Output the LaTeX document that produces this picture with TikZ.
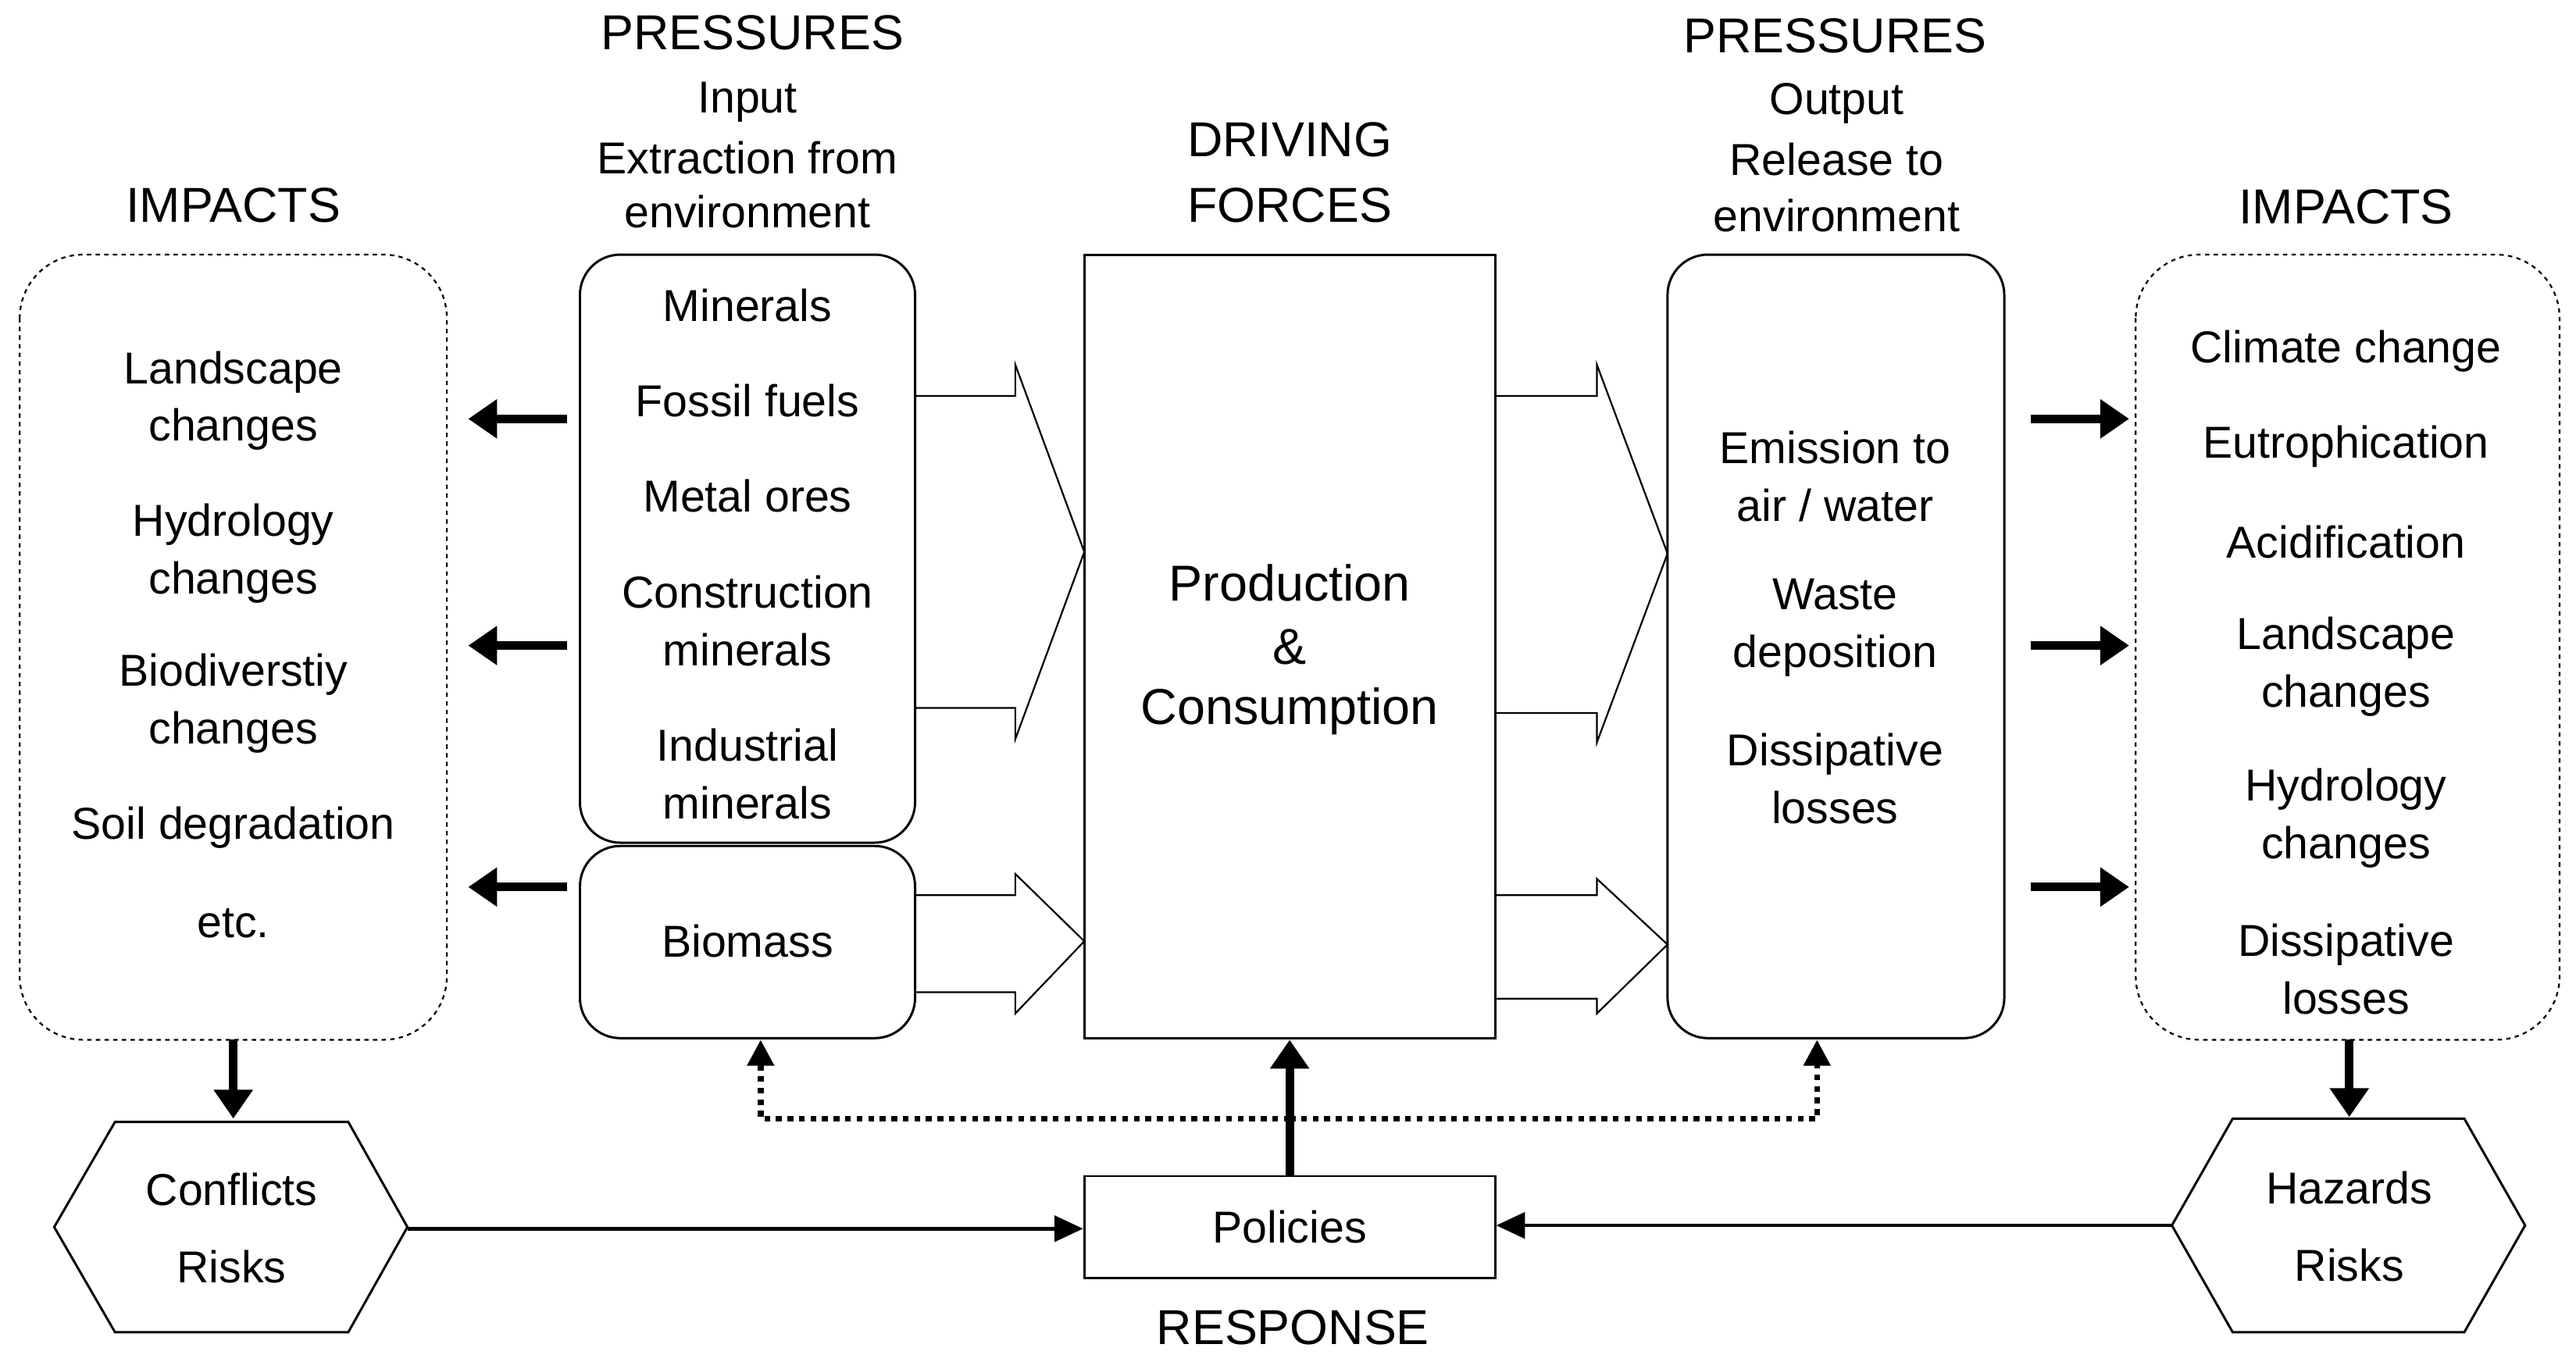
\documentclass[tikz,border=0pt]{standalone}
\usepackage{fontspec}
\setmainfont{Liberation Sans}
\usetikzlibrary{arrows.meta}
\begin{document}
\begin{tikzpicture}[x=0.02cm,y=-0.02cm,
  every node/.style={font=\fontsize{15.5}{17}\selectfont,align=center,inner sep=0},
  ttl/.style={font=\fontsize{17}{19}\selectfont},
  box/.style={draw,line width=0.8pt,rounded corners=14},
  dbox/.style={draw,dashed,dash pattern=on 1.5pt off 1.5pt,line width=0.6pt,rounded corners=22},
  thick arrow/.style={line width=3pt,-{Triangle[length=10pt,width=13pt]}},
  hollow/.style={draw,line width=0.6pt,fill=white},
  thin arrow/.style={line width=1.2pt,-{Triangle[length=10pt,width=9pt]}}]
\useasboundingbox (0,0) rectangle (1568,829);
% hollow arrows
\draw[hollow] (557,241)--(618,241)--(618,222)--(660,336)--(618,450)--(618,431)--(557,431);
\draw[hollow] (557,545)--(618,545)--(618,532)--(660,573)--(618,617)--(618,604)--(557,604);
\draw[hollow] (910,241)--(972,241)--(972,222)--(1015,337)--(972,452)--(972,434)--(910,434);
\draw[hollow] (910,545)--(972,545)--(972,535)--(1015,575)--(972,617)--(972,608)--(910,608);
% boxes
\draw[dbox] (12,155) rectangle (272,633);
\draw[dbox] (1300,155) rectangle (1558,633);
\draw[box] (353,155) rectangle (557,513);
\draw[box] (353,515) rectangle (557,632);
\draw[line width=0.8pt] (660,155) rectangle (910,632);
\draw[box] (1015,155) rectangle (1220,632);
\node[draw,line width=0.8pt,minimum width=250*0.02cm,minimum height=62*0.02cm] (pol) at (785,747) {Policies};
% hexagons
\draw[line width=0.8pt] (33,747)--(70,683)--(212,683)--(248,747)--(212,811)--(70,811)--cycle;
\coordinate (lhex) at (248,748);
\draw[line width=0.8pt] (1322,746)--(1359,681)--(1500,681)--(1537,746)--(1500,811)--(1359,811)--cycle;
\coordinate (rhex) at (1322,746);
\node at (141,724) {Conflicts};
\node at (141,771) {Risks};
\node at (1430,723) {Hazards};
\node at (1430,770) {Risks};
% titles
\node[ttl] at (142,125) {IMPACTS};
\node[ttl] at (1428,126) {IMPACTS};
\node[ttl] at (458,20) {PRESSURES};
\node at (455,62) {Input};
\node at (455,96) {Extraction from};
\node at (455,129) {environment};
\node[ttl] at (1117,22) {PRESSURES};
\node at (1118,63) {Output};
\node at (1118,97) {Release to};
\node at (1118,131) {environment};
\node[ttl] at (785,85) {DRIVING};
\node[ttl] at (785,125) {FORCES};
\node[ttl] at (787,808) {RESPONSE};
% texts
\node at (142,244) {Landscape\\[3pt]changes};
\node at (142,337) {Hydrology\\[3pt]changes};
\node at (142,428) {Biodiverstiy\\[3pt]changes};
\node at (142,504) {Soil degradation};
\node at (142,562) {etc.};
\node at (455,186) {Minerals};
\node at (455,244) {Fossil fuels};
\node at (455,302) {Metal ores};
\node at (455,378) {Construction\\[3pt]minerals};
\node at (455,471) {Industrial\\[3pt]minerals};
\node at (455,573) {Biomass};
\node[font=\fontsize{17.5}{19}\selectfont] at (785,355) {Production};
\node[font=\fontsize{17.5}{19}\selectfont] at (785,394) {\&};
\node[font=\fontsize{17.5}{19}\selectfont] at (785,433) {Consumption};
\node at (1117,290) {Emission to\\[3pt]air / water};
\node at (1117,382) {Waste\\[3pt]deposition};
\node at (1117,474) {Dissipative\\[3pt]losses};
\node at (1428,214) {Climate change};
\node at (1428,272) {Eutrophication};
\node at (1428,330) {Acidification};
\node at (1428,406) {Landscape\\[3pt]changes};
\node at (1428,498) {Hydrology\\[3pt]changes};
\node at (1428,590) {Dissipative\\[3pt]losses};
% thick arrows
\foreach \y in {255,393,540}{
  \draw[thick arrow] (345,\y)--(285,\y);
  \draw[thick arrow] (1236,\y)--(1296,\y);}
\draw[thick arrow] (142,633)--(142,681);
\draw[thick arrow] (1430,633)--(1430,680);
\draw[thick arrow] (pol.north)--(785,633);
% thin arrows
\draw[thin arrow] (lhex)--(pol.west|-lhex);
\draw[thin arrow] (rhex)--(pol.east|-rhex);
% dotted
\draw[line width=2pt,dotted,-{Triangle[length=9pt,width=9pt]}] (785,681)-|(463,633);
\draw[line width=2pt,dotted,-{Triangle[length=9pt,width=9pt]}] (785,681)-|(1106,633);
\end{tikzpicture}
\end{document}
